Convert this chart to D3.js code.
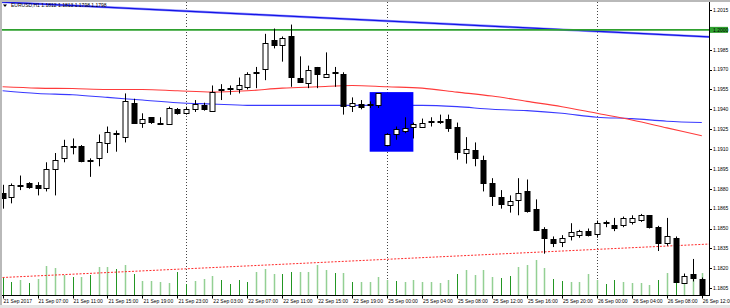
<!DOCTYPE html>
<html>
<head>
<meta charset="utf-8">
<script src="https://cdn.jsdelivr.net/npm/d3@7"></script>
<style>
body{margin:0;background:#fff;overflow:hidden;}
svg text{font-family:"Liberation Sans",Arial,sans-serif;font-size:5px;fill:#000;}
</style>
</head>
<body>
<div id="chart"></div>
<script>
// EURUSD H1, 21 Sep 03:00 -> 26 Sep 12:00
var opens  = [1.1877,1.1874,1.1882,1.1884,1.1883,1.1881,1.1895,1.1903,1.1911,1.1912,1.1901,1.1903,1.1915,1.1921,1.1919,1.1945,1.1930,1.1934,1.1930,1.1929,
              1.1940,1.1937,1.1940,1.1943,1.1939,1.1954,1.1955,1.1955,1.1957,1.1967,1.1970,1.1992,1.1989,1.1995,1.1964,1.1960,1.1972,1.1965,1.1968,1.1967,
              1.1943,1.1944,1.1943,1.1943,1.1913,1.1921,1.1924,1.1927,1.1927,1.1930,1.1930,1.1933,1.1927,1.1907,1.1909,1.1902,1.1884,1.1874,1.1868,1.1872,
              1.1878,1.1865,1.1850,1.1842,1.1840,1.1844,1.1845,1.1848,1.1846,1.1855,1.1853,1.1853,1.1855,1.1856,1.1860,1.1851,1.1839,1.1843,1.1809,1.1816,1.1812];
var highs  = [1.1883,1.1884,1.1890,1.1885,1.1885,1.1900,1.1907,1.1917,1.1918,1.1913,1.1903,1.1921,1.1927,1.1924,1.1952,1.1948,1.1937,1.1934,1.1934,1.1942,
              1.1941,1.1942,1.1947,1.1945,1.1958,1.1959,1.1958,1.1964,1.1968,1.1972,1.1997,1.2001,1.1995,1.2004,1.1980,1.1973,1.1972,1.1983,1.1972,1.1968,
              1.1949,1.1947,1.1946,1.1952,1.1922,1.1927,1.1934,1.1930,1.1933,1.1934,1.1936,1.1936,1.1930,1.1919,1.1915,1.1905,1.1888,1.1879,1.1875,1.1888,
              1.1887,1.1872,1.1851,1.1844,1.1845,1.1854,1.1849,1.1850,1.1856,1.1856,1.1858,1.1859,1.1860,1.1861,1.1860,1.1852,1.1858,1.1844,1.1816,1.1827,1.1813];
var lows   = [1.1865,1.1869,1.1879,1.1880,1.1875,1.1878,1.1875,1.1900,1.1906,1.1900,1.1889,1.1897,1.1907,1.1908,1.1915,1.1930,1.1926,1.1929,1.1929,1.1929,
              1.1936,1.1936,1.1938,1.1939,1.1938,1.1947,1.1951,1.1952,1.1955,1.1956,1.1962,1.1986,1.1976,1.1957,1.1960,1.1956,1.1956,1.1964,1.1957,1.1936,
              1.1938,1.1940,1.1941,1.1941,1.1912,1.1917,1.1922,1.1918,1.1926,1.1927,1.1929,1.1923,1.1902,1.1899,1.1897,1.1878,1.1867,1.1865,1.1862,1.1860,
              1.1862,1.1848,1.1831,1.1836,1.1836,1.1841,1.1843,1.1844,1.1843,1.1851,1.1848,1.1851,1.1853,1.1855,1.1850,1.1833,1.1837,1.1809,1.1809,1.1810,1.1798];
var closes = [1.1873,1.1883,1.1883,1.1881,1.1881,1.1895,1.1902,1.1912,1.1912,1.1901,1.1902,1.1915,1.1923,1.1922,1.1946,1.1930,1.1933,1.1930,1.1929,1.1941,
              1.1937,1.1940,1.1944,1.1940,1.1953,1.1955,1.1956,1.1958,1.1967,1.1968,1.1990,1.1988,1.1994,1.1964,1.1961,1.1970,1.1967,1.1967,1.1967,1.1943,
              1.1945,1.1942,1.1944,1.1952,1.1921,1.1925,1.1926,1.1929,1.1930,1.1931,1.1931,1.1926,1.1908,1.1910,1.1903,1.1885,1.1874,1.1869,1.1871,1.1877,
              1.1863,1.1849,1.1843,1.1839,1.1843,1.1847,1.1848,1.1845,1.1854,1.1854,1.1851,1.1858,1.1858,1.1860,1.1851,1.1839,1.1844,1.1810,1.1814,1.1813,1.1798];
var volumes = [1700,1300,1500,1200,1600,2900,2700,2000,1800,1800,2000,2800,2800,2600,3000,2100,1400,1400,1300,1200,
               2300,1100,1400,1600,1900,1500,1100,1500,1300,2300,2600,2100,2100,2300,2300,2300,3000,2500,2200,2200,
               1300,1300,1300,1800,1500,1400,1300,1500,1300,1300,1200,1500,2100,2500,2000,2500,1800,1700,1900,2800,
               3000,3500,2700,1600,1400,1300,1300,2100,1500,1100,1500,1300,1200,1200,1000,1500,2200,2200,1500,1700,2200];
var volDark = [1,1,0,1,0,0,0,0,1,0,1,0,0,1,0,1,0,0,0,0,
               1,1,0,0,0,1,1,1,1,0,0,0,1,1,0,0,0,0,1,0,
               1,0,0,0,0,1,0,0,0,0,0,0,1,0,0,0,0,1,1,0,
               0,0,0,1,1,0,0,0,0,1,1,0,0,0,0,1,0,1,0,0,0];

// moving averages, one value every 4 bars
var maRed  = [1.1957,1.1956,1.19557,1.1955,1.1955,1.1954,1.1953,1.1954,1.1956,1.1957,1.1958,1.1957,1.1956,1.1953,1.1950,1.1946,1.1942,1.1937,1.1932,1.1926,1.1920];
var maBlue = [1.1954,1.1952,1.1951,1.1949,1.1947,1.1945,1.1944,1.1943,1.1943,1.1943,1.1943,1.1943,1.1943,1.1942,1.1940,1.1939,1.1937,1.1934,1.1933,1.1931,1.1930];

var trendTop = [1.2021, 1.1995];
var trendLow = [1.1813, 1.1838];
var hLevel = 1.2000;
var boxBars = [42, 47];
var boxPrices = [1.1953, 1.1908];
var separators = [21, 44, 68];

var timeLabels = ["21 Sep 2017","21 Sep 07:00","21 Sep 11:00","21 Sep 15:00","21 Sep 19:00","21 Sep 23:00",
                  "22 Sep 03:00","22 Sep 07:00","22 Sep 11:00","22 Sep 15:00","22 Sep 19:00",
                  "25 Sep 00:00","25 Sep 04:00","25 Sep 08:00","25 Sep 12:00","25 Sep 16:00","25 Sep 20:00",
                  "26 Sep 00:00","26 Sep 04:00","26 Sep 08:00","26 Sep 12:00"];
var priceLabels = ["1.2015","1.2000","1.1985","1.1970","1.1955","1.1940","1.1925","1.1910",
                   "1.1895","1.1880","1.1865","1.1850","1.1835","1.1820","1.1805"];

var width = 730, height = 308;
var plot = {left: 2, right: 709, top: 2, bottom: 296};

var svg = d3.select("#chart")
.append("svg")
.attr("width", width)
.attr("height", height)

var x = d3.scaleLinear()
.domain([0, 80])
.range([2.6, 701.8])

var y = d3.scaleLinear()
.domain([1.1805, 1.2015])
.range([288.1, 10])

var yVol = d3.scaleLinear()
.domain([0, 4000])
.range([295, 255])

var px = function(v){ return Math.round(v) + 0.5; }

//frame
svg.append("rect").attr("x",0).attr("y",0).attr("width",width).attr("height",2).attr("fill","#b9b9b9")
svg.append("rect").attr("x",0).attr("y",0).attr("width",2).attr("height",305).attr("fill","#b9b9b9")
svg.append("rect").attr("x",0).attr("y",305).attr("width",width).attr("height",3).attr("fill","#e4e4e4")

svg.append("clipPath")
.attr("id","plotClip")
.append("rect")
.attr("x", plot.left)
.attr("y", plot.top)
.attr("width", plot.right - plot.left)
.attr("height", plot.bottom - plot.top - 0.5)

var g = svg.append("g").attr("clip-path","url(#plotClip)")

//period separators
g.selectAll(".sep")
.data(separators)
.enter()
.append("line")
.attr("x1", function(d){ return px(x(d)); })
.attr("x2", function(d){ return px(x(d)); })
.attr("y1", plot.top)
.attr("y2", plot.bottom)
.attr("stroke","#444")
.attr("stroke-dasharray","1,2")

//volumes
g.selectAll(".vol")
.data(volumes)
.enter()
.append("line")
.attr("x1", function(d,i){ return px(x(i)); })
.attr("x2", function(d,i){ return px(x(i)); })
.attr("y1", yVol(0))
.attr("y2", function(d){ return yVol(d); })
.attr("stroke", function(d,i){ return volDark[i] ? "#239623" : "#94d094"; })
.attr("stroke-width", function(d,i){ return volDark[i] ? 1 : 1.5; })

//moving averages
var maLine = d3.line()
.x(function(d,i){ return x(i*4); })
.y(function(d){ return y(d); })
.curve(d3.curveMonotoneX)

g.append("path").datum(maBlue).attr("d", maLine).attr("fill","none").attr("stroke","#3a3aff").attr("stroke-width",1.1)
g.append("path").datum(maRed).attr("d", maLine).attr("fill","none").attr("stroke","#ff3b3b").attr("stroke-width",1.1)

//trend lines (rays both ways)
var ray = function(p){
  var slope = (p[1]-p[0])/80;
  return [[-2, p[0] - 2*slope], [84, p[1] + 4*slope]];
}
var trendLine = d3.line()
.x(function(d){ return x(d[0]); })
.y(function(d){ return y(d[1]); })

g.append("path").datum(ray(trendLow)).attr("d", trendLine).attr("fill","none")
.attr("stroke","#ff2a2a").attr("stroke-width",1).attr("stroke-dasharray","2,1.5")

g.append("path").datum(ray(trendTop)).attr("d", trendLine).attr("fill","none")
.attr("stroke","#9a9aff").attr("stroke-width",2.4)
g.append("path").datum(ray(trendTop)).attr("d", trendLine).attr("fill","none")
.attr("stroke","#1414e6").attr("stroke-width",1.2)

//horizontal level
g.append("line")
.attr("x1", plot.left).attr("x2", plot.right)
.attr("y1", y(hLevel)).attr("y2", y(hLevel))
.attr("stroke","#2ea02e").attr("stroke-width",1.6)

//rectangle
g.append("rect")
.attr("x", x(boxBars[0]))
.attr("y", y(boxPrices[0]))
.attr("width", x(boxBars[1]) - x(boxBars[0]))
.attr("height", y(boxPrices[1]) - y(boxPrices[0]))
.attr("fill","#0000ff")

//candles
var bars = d3.range(opens.length)
var candle = g.selectAll(".candle")
.data(bars)
.enter()
.append("g")

candle.append("line")
.attr("x1", function(i){ return px(x(i)); })
.attr("x2", function(i){ return px(x(i)); })
.attr("y1", function(i){ return y(highs[i]); })
.attr("y2", function(i){ return y(lows[i]); })
.attr("stroke","#000")

candle.append("rect")
.attr("x", function(i){ return Math.round(x(i)) - 2; })
.attr("y", function(i){ return Math.round(y(Math.max(opens[i], closes[i]))) + 0.5; })
.attr("width", 5)
.attr("height", function(i){ return Math.max(1, Math.round(Math.abs(y(opens[i]) - y(closes[i])))); })
.attr("fill", function(i){ return closes[i] >= opens[i] ? "#fff" : "#000"; })
.attr("stroke","#000")

//axes
svg.append("line")
.attr("x1", plot.right + 0.5).attr("x2", plot.right + 0.5)
.attr("y1", plot.top).attr("y2", plot.bottom)
.attr("stroke","#000")
svg.append("line")
.attr("x1", plot.left).attr("x2", plot.right)
.attr("y1", plot.bottom - 0.5).attr("y2", plot.bottom - 0.5)
.attr("stroke","#000")

var priceAxis = svg.append("g")
priceAxis.selectAll("line")
.data(priceLabels)
.enter()
.append("line")
.attr("x1", plot.right).attr("x2", plot.right + 3)
.attr("y1", function(d){ return px(y(+d)); })
.attr("y2", function(d){ return px(y(+d)); })
.attr("stroke","#000")
priceAxis.selectAll("text")
.data(priceLabels)
.enter()
.append("text")
.attr("x", 713)
.attr("y", function(d){ return y(+d) + 1.8; })
.text(function(d){ return d; })

svg.append("rect")
.attr("x", 710).attr("y", y(hLevel) - 3)
.attr("width", 18).attr("height", 6)
.attr("fill","#2ea02e")
svg.append("text")
.attr("x", 713).attr("y", y(hLevel) + 1.8)
.text(d3.format(".4f")(hLevel))

var timeAxis = svg.append("g")
timeAxis.selectAll("line")
.data(timeLabels)
.enter()
.append("line")
.attr("x1", function(d,i){ return px(x(i*4)); })
.attr("x2", function(d,i){ return px(x(i*4)); })
.attr("y1", plot.bottom - 0.5).attr("y2", plot.bottom + 2.5)
.attr("stroke","#000")
timeAxis.selectAll("text")
.data(timeLabels)
.enter()
.append("text")
.attr("x", function(d,i){ return x(i*4) + 1; })
.attr("y", 302.5)
.text(function(d){ return d; })

//symbol title
svg.append("path")
.attr("d","M3,4.5 L7,4.5 L5,7 Z")
.attr("fill","#000")
svg.append("text")
.attr("x", 11).attr("y", 7)
.text("EURUSD,H1  1.1812 1.1813 1.1798 1.1798")
</script>
</body>
</html>
